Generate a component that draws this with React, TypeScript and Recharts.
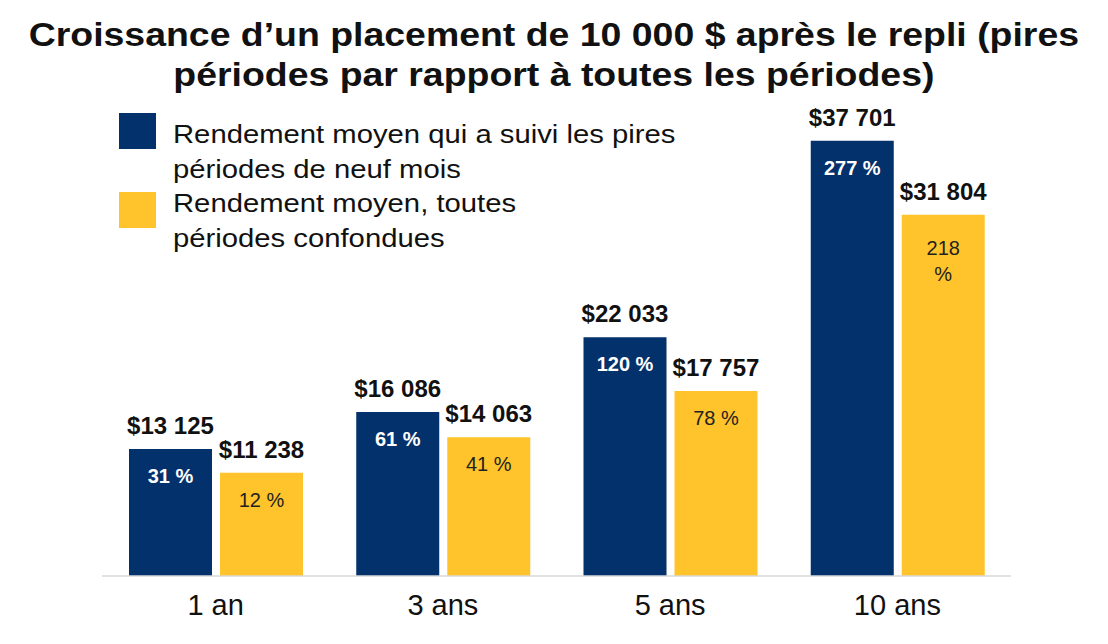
import { BarChart, Bar, XAxis, YAxis, LabelList } from 'recharts';

const categories = ['1 an', '3 ans', '5 ans', '10 ans'];
const worstValues = [13125, 16086, 22033, 37701];
const allValues = [11238, 14063, 17757, 31804];
const worstPct = ['31 %', '61 %', '120 %', '277 %'];
const allPct = ['12 %', '41 %', '78 %', '218 %'];
const seriesNames = [
  'Rendement moyen qui a suivi les pires\npériodes de neuf mois',
  'Rendement moyen, toutes\npériodes confondues',
];
const titleLines = [
  'Croissance d’un placement de 10 000 $ après le repli (pires',
  'périodes par rapport à toutes les périodes)',
];

const NAVY = '#03316B';
const YELLOW = '#FFC42B';
const FONT = '"Liberation Sans", Arial, sans-serif';

const data = categories.map((name, i) => ({
  name,
  worst: worstValues[i],
  all: allValues[i],
  worstPct: worstPct[i],
  allPct: allPct[i],
}));

const fmt = (v: number) => '$' + String(v).replace(/\B(?=(\d{3})+(?!\d))/g, ' ');

const renderValue = (p: any) => (
  <text
    x={Number(p.x) + Number(p.width) / 2}
    y={Number(p.y) - 15}
    textAnchor="middle"
    fontSize={24}
    fontWeight="bold"
    fontFamily={FONT}
    fill="#111"
  >
    {fmt(Number(p.value))}
  </text>
);

// percent label inside the bar; the yellow text box is narrow, so long labels wrap
const makePct = (color: string, weight: string, maxChars?: number) => (p: any) => {
  const s = String(p.value);
  const lines = maxChars && s.length > maxChars ? s.split(' ') : [s];
  const cx = Number(p.x) + Number(p.width) / 2;
  const y0 = Number(p.y) + (lines.length > 1 ? 40 : 34);
  return (
    <text textAnchor="middle" fontSize={20} fontWeight={weight} fontFamily={FONT} fill={color}>
      {lines.map((l, i) => (
        <tspan key={i} x={cx} y={y0 + i * 26.5}>
          {l}
        </tspan>
      ))}
    </text>
  );
};

export default function App() {
  const colors = [NAVY, YELLOW];
  return (
    <div style={{ position: 'absolute', left: 0, top: 0, width: 1108, height: 644, background: '#fff', fontFamily: FONT, overflow: 'hidden' }}>
      <div style={{ position: 'absolute', left: 0, top: 15, width: 1108, textAlign: 'center', fontSize: 33, lineHeight: '40px', fontWeight: 'bold', color: '#111', transform: 'scaleX(1.134)', transformOrigin: '555px 0', whiteSpace: 'nowrap' }}>
        {titleLines.map((t) => (
          <div key={t}>{t}</div>
        ))}
      </div>

      {seriesNames.map((name, i) => (
        <div key={name}>
          <div style={{ position: 'absolute', left: 119, top: 113 + i * 79, width: 37, height: 36, background: colors[i] }} />
          <div style={{ position: 'absolute', left: 173, top: 117 + i * 69, fontSize: 25, lineHeight: '34.5px', color: '#111', whiteSpace: 'pre', transform: 'scaleX(1.17)', transformOrigin: '0 0' }}>
            {name}
          </div>
        </div>
      ))}

      <BarChart width={1108} height={644} data={data} margin={{ top: 112, right: 97, bottom: 28, left: 102 }} barGap={8}>
        <XAxis
          dataKey="name"
          tickLine={false}
          axisLine={{ stroke: '#d9d9d9', strokeWidth: 1.5 }}
          tick={{ fontSize: 29, fill: '#111', fontFamily: FONT }}
          tickMargin={12}
          height={40}
          interval={0}
        />
        <YAxis hide domain={[3000, 40000]} allowDataOverflow />
        <Bar dataKey="worst" fill={NAVY} barSize={83} isAnimationActive={false}>
          <LabelList dataKey="worst" content={renderValue} />
          <LabelList dataKey="worstPct" content={makePct('#fff', 'bold')} />
        </Bar>
        <Bar dataKey="all" fill={YELLOW} barSize={83} isAnimationActive={false}>
          <LabelList dataKey="all" content={renderValue} />
          <LabelList dataKey="allPct" content={makePct('#222', 'normal', 4)} />
        </Bar>
      </BarChart>
    </div>
  );
}
